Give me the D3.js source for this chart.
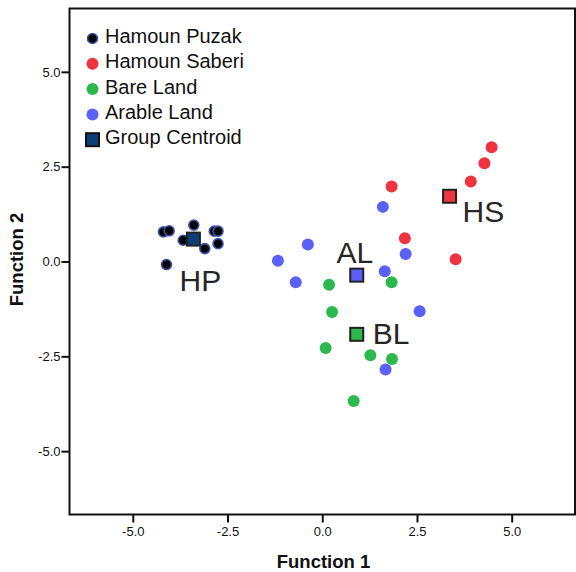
<!DOCTYPE html>
<html>
<head>
<meta charset="utf-8">
<script src="https://cdn.jsdelivr.net/npm/d3@7"></script>
<style>
  html, body { margin: 0; padding: 0; background: #fff; }
  svg { display: block; font-family: "Liberation Sans", Arial, sans-serif; }
</style>
</head>
<body>
<svg id="chart" width="576" height="572"></svg>
<script>
// Discriminant scores (Function 1, Function 2) per group
const groups = ["Hamoun Puzak", "Hamoun Saberi", "Bare Land", "Arable Land"];
const groupCodes = ["HP", "HS", "BL", "AL"];

const hamounPuzakF1 = [-4.19, -4.04, -3.39, -3.67, -3.10, -2.85, -2.75, -2.75, -4.11];
const hamounPuzakF2 = [0.78, 0.81, 0.96, 0.56, 0.34, 0.80, 0.80, 0.47, -0.08];

const hamounSaberiF1 = [4.47, 4.28, 3.92, 1.83, 2.18, 3.52];
const hamounSaberiF2 = [3.01, 2.59, 2.11, 1.98, 0.61, 0.06];

const bareLandF1 = [0.18, 1.83, 0.26, 0.09, 1.27, 1.84, 0.83];
const bareLandF2 = [-0.61, -0.55, -1.33, -2.28, -2.47, -2.57, -3.68];

const arableLandF1 = [1.60, -0.38, -1.17, 2.20, -0.70, 1.65, 2.57, 1.67];
const arableLandF2 = [1.44, 0.45, 0.02, 0.20, -0.55, -0.26, -1.31, -2.85];

// Group centroids, same order as groups
const centroidF1 = [-3.40, 3.36, 0.91, 0.91];
const centroidF2 = [0.59, 1.72, -1.92, -0.36];

const tickValues = [-5, -2.5, 0, 2.5, 5];
const axisDomain = [-6.67, 6.67];

const legendLabels = ["Hamoun Puzak", "Hamoun Saberi", "Bare Land", "Arable Land", "Group Centroid"];

// ---- styling ----
const fills = {
  "Hamoun Puzak": "#000000",
  "Hamoun Saberi": "#ef3340",
  "Bare Land": "#2db84d",
  "Arable Land": "#5b61f7"
};
const hpRing = "#3c55a8";
const centroidFills = {
  "Hamoun Puzak": "#0b3d77",
  "Hamoun Saberi": "#ef3340",
  "Bare Land": "#2db84d",
  "Arable Land": "#5b61f7"
};
// label placement relative to each centroid (dx, dy, anchor)
const labelOffsets = {
  "HP": [7, 52, "middle"],
  "HS": [13, 26, "start"],
  "BL": [16, 10, "start"],
  "AL": [-2, -12, "middle"]
};

const svg = d3.select("#chart");
const frame = { left: 69.5, right: 575, top: 8.5, bottom: 514.5 };

const x = d3.scaleLinear().domain(axisDomain).range([frame.left, frame.right]);
const y = d3.scaleLinear().domain(axisDomain).range([frame.bottom, frame.top]);

const seriesList = [
  { name: "Hamoun Puzak", f1: hamounPuzakF1, f2: hamounPuzakF2 },
  { name: "Hamoun Saberi", f1: hamounSaberiF1, f2: hamounSaberiF2 },
  { name: "Bare Land", f1: bareLandF1, f2: bareLandF2 },
  { name: "Arable Land", f1: arableLandF1, f2: arableLandF2 }
];

// axes
const fmt = d => d.toFixed(1);
const xAxis = d3.axisBottom(x).tickValues(tickValues).tickFormat(fmt).tickSize(8).tickPadding(4).tickSizeOuter(0);
const yAxis = d3.axisLeft(y).tickValues(tickValues).tickFormat(fmt).tickSize(8).tickPadding(1).tickSizeOuter(0);

const gx = svg.append("g").attr("transform", `translate(0,${frame.bottom})`).call(xAxis);
const gy = svg.append("g").attr("transform", `translate(${frame.left},0)`).call(yAxis);
[gx, gy].forEach(g => {
  g.select(".domain").remove();
  g.selectAll(".tick line").attr("stroke", "#111").attr("stroke-width", 2);
  g.selectAll(".tick text").attr("font-size", 13).attr("fill", "#111")
    .attr("font-family", "'Liberation Sans', Arial, sans-serif");
});

// plot frame
svg.append("rect")
  .attr("x", frame.left).attr("y", frame.top)
  .attr("width", frame.right - frame.left).attr("height", frame.bottom - frame.top)
  .attr("fill", "none").attr("stroke", "#111").attr("stroke-width", 2);

// axis titles
svg.append("text")
  .attr("x", 323.5).attr("y", 568)
  .attr("text-anchor", "middle").attr("font-weight", "bold").attr("font-size", 18.5)
  .attr("fill", "#111").text("Function 1");
svg.append("text")
  .attr("transform", `translate(22.5,${259.5}) rotate(-90)`)
  .attr("text-anchor", "middle").attr("font-weight", "bold").attr("font-size", 18.5)
  .attr("fill", "#111").text("Function 2");

// points
const plot = svg.append("g");
seriesList.forEach(s => {
  const pts = s.f1.map((v, i) => [v, s.f2[i]]);
  const isHP = s.name === "Hamoun Puzak";
  plot.append("g").selectAll("circle").data(pts).join("circle")
    .attr("cx", d => x(d[0])).attr("cy", d => y(d[1]))
    .attr("r", isHP ? 5 : 6)
    .attr("fill", fills[s.name])
    .attr("stroke", isHP ? hpRing : "none")
    .attr("stroke-width", isHP ? 1.6 : 0);
});

// centroids
const centroids = groups.map((g, i) => ({ name: g, code: groupCodes[i], f1: centroidF1[i], f2: centroidF2[i] }));
const side = 13;
plot.append("g").selectAll("rect").data(centroids).join("rect")
  .attr("x", d => x(d.f1) - side / 2).attr("y", d => y(d.f2) - side / 2)
  .attr("width", side).attr("height", side)
  .attr("fill", d => centroidFills[d.name])
  .attr("stroke", "#222").attr("stroke-width", 2);

// centroid labels
plot.append("g").selectAll("text").data(centroids).join("text")
  .attr("x", d => x(d.f1) + labelOffsets[d.code][0])
  .attr("y", d => y(d.f2) + labelOffsets[d.code][1])
  .attr("text-anchor", d => labelOffsets[d.code][2])
  .attr("font-size", 30).attr("fill", "#262626")
  .text(d => d.code);

// legend
const legend = svg.append("g");
const legendX = 92.5, legendY0 = 38.5, legendStep = 25.3;
legendLabels.forEach((label, i) => {
  const cy = legendY0 + i * legendStep;
  if (i < 4) {
    const isHP = label === "Hamoun Puzak";
    legend.append("circle")
      .attr("cx", legendX).attr("cy", cy)
      .attr("r", isHP ? 5 : 6)
      .attr("fill", fills[label])
      .attr("stroke", isHP ? hpRing : "none")
      .attr("stroke-width", isHP ? 1.6 : 0);
  } else {
    legend.append("rect")
      .attr("x", legendX - side / 2).attr("y", cy - side / 2)
      .attr("width", side).attr("height", side)
      .attr("fill", centroidFills["Hamoun Puzak"])
      .attr("stroke", "#111").attr("stroke-width", 2);
  }
  legend.append("text")
    .attr("x", 105).attr("y", cy + 4.5)
    .attr("font-size", 20).attr("fill", "#111")
    .text(label);
});
</script>
</body>
</html>
